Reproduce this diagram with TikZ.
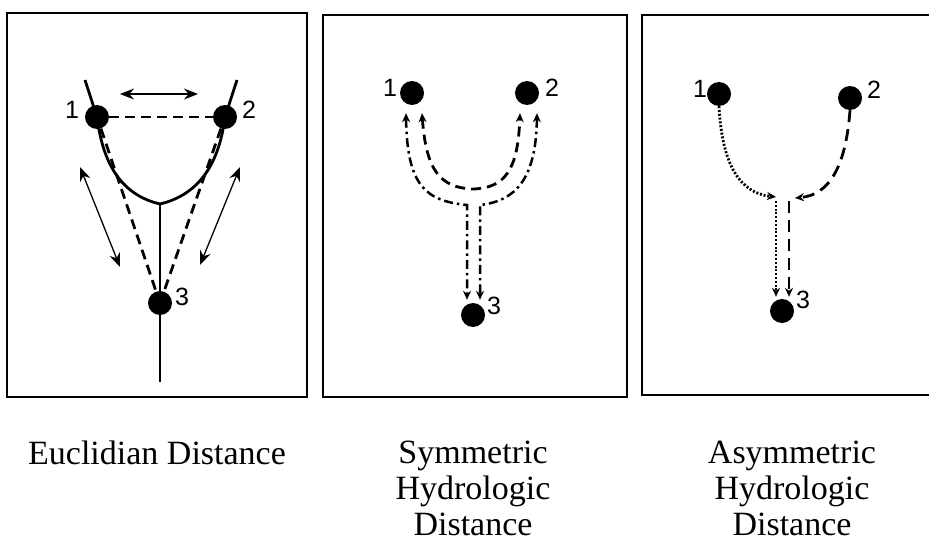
\documentclass[tikz,border=0pt]{standalone}
\usepackage{fontspec}
\setmainfont{Liberation Serif}
\setsansfont{Liberation Sans}
\usetikzlibrary{arrows.meta,calc}
\tikzset{
  panelbox/.style={draw=black,line width=2pt},
  sitedot/.style={circle,fill=black,inner sep=0pt,minimum size=24pt},
  numlbl/.style={font=\sffamily\fontsize{25}{25}\selectfont,inner sep=0pt},
  captext/.style={font=\fontsize{34}{36}\selectfont,align=center,inner sep=0pt,anchor=base},
  riverline/.style={line width=2.8pt},
  dshline/.style={line width=2.8pt,dash pattern=on 10pt off 6pt},
  dashdotline/.style={line width=2.5pt,dash pattern=on 9pt off 4pt on 2.5pt off 4pt},
  dottyline/.style={line width=2.8pt,dash pattern=on 2pt off 1.8pt},
  longdashline/.style={line width=2.8pt,dash pattern=on 12pt off 7pt},
  thinarrow/.style={line width=1.3pt,{Stealth[length=14pt,width=11pt]}-{Stealth[length=14pt,width=11pt]}},
  onetip/.style={-{Stealth[length=9pt,width=8pt]}},
  twotip/.style={{Stealth[length=9pt,width=8pt]}-{Stealth[length=9pt,width=8pt]}}
}
\begin{document}
\begin{tikzpicture}[x=1pt,y=-1pt]
\useasboundingbox (0,0) rectangle (929,543);
% panels
\draw[panelbox] (7,13) rectangle (307,397);
\draw[panelbox] (323,15) rectangle (627,397);
\draw[panelbox] (642,15) rectangle (931,395);

% ---------- Panel 1: Euclidian ----------
\coordinate (rtl) at (85,80);
\coordinate (rtr) at (237,80);
\coordinate (jn) at (160,204);
\coordinate (rb) at (160,382);
\node[sitedot] (e1) at (97,117) {};
\node[sitedot] (e2) at (225,117) {};
\node[sitedot] (e3) at (160,303) {};
\node[numlbl] (le1) at (72,110) {1};
\node[numlbl] (le2) at (249,110) {2};
\node[numlbl] (le3) at (182,297) {3};
\draw[riverline] (rtl) -- (e1.center) .. controls (103,165) and (122,195) .. (jn)
  .. controls (198,195) and (219,165) .. (e2.center) -- (rtr);
\draw[riverline] (jn) -- (rb);
\draw[dshline] (e1) -- (e2);
\draw[dshline] (e1) -- (e3);
\draw[dshline] (e2) -- (e3);
\coordinate (ha) at (120,94);
\coordinate (hb) at (198,94);
\coordinate (la) at (80,167);
\coordinate (lb) at (120,267);
\coordinate (ra) at (240,167);
\coordinate (rbb) at (200,265);
\draw[thinarrow] (ha) -- (hb);
\draw[thinarrow] (la) -- (lb);
\draw[thinarrow] (ra) -- (rbb);

% ---------- Panel 2: Symmetric ----------
\node[sitedot] (p1) at (412,93) {};
\node[sitedot] (p2) at (527,93) {};
\node[sitedot] (p3) at (473,315) {};
\node[numlbl] (lp1) at (390,88) {1};
\node[numlbl] (lp2) at (552,88) {2};
\node[numlbl] (lp3) at (494,306) {3};
\coordinate (t1a) at ([shift={(-6,8)}]p1.south);
\coordinate (t1b) at ([shift={(10,8)}]p1.south);
\coordinate (t2a) at ([shift={(-7,8)}]p2.south);
\coordinate (t2b) at ([shift={(10,8)}]p2.south);
\coordinate (ja) at (467,205);
\coordinate (jb) at (480,205);
\draw[dashdotline,twotip,shorten >=3pt] (t1a) .. controls (407,185) and (425,201) .. (ja) -- (ja |- p3.north);
\draw[dashdotline,twotip,shorten >=3pt] (t2b) .. controls (536,180) and (515,201) .. (jb) -- (jb |- p3.north);
\draw[dshline,twotip] (t1b) .. controls (426,170) and (440,188) .. (473,189)
  .. controls (505,188) and (518,170) .. (t2a);

% ---------- Panel 3: Asymmetric ----------
\node[sitedot] (m1) at (719,94) {};
\node[sitedot] (m2) at (850,98) {};
\node[sitedot] (m3) at (782,311) {};
\node[numlbl] (lm1) at (700,89) {1};
\node[numlbl] (lm2) at (874,90) {2};
\node[numlbl] (lm3) at (803,300) {3};
\coordinate (ka) at (776,197);
\coordinate (kb) at (795,198);
\coordinate (va) at (776,201);
\coordinate (vb) at (789,201);
\draw[dottyline,onetip] (m1.south) .. controls (722,165) and (740,193) .. (ka);
\draw[dottyline,onetip,shorten >=2pt] (va) -- (va |- m3.north);
\draw[longdashline,onetip] (m2.south) .. controls (846,165) and (830,195) .. (kb);
\draw[longdashline,onetip,shorten >=2pt] (vb) -- (vb |- m3.north);

% ---------- captions (base anchor = last line's baseline) ----------
\node[captext] (c1) at (157,464) {Euclidian Distance};
\node[captext] (c2) at (473,535) {Symmetric\\Hydrologic\\Distance};
\node[captext] (c3) at (792,535) {Asymmetric\\Hydrologic\\Distance};
\end{tikzpicture}
\end{document}
